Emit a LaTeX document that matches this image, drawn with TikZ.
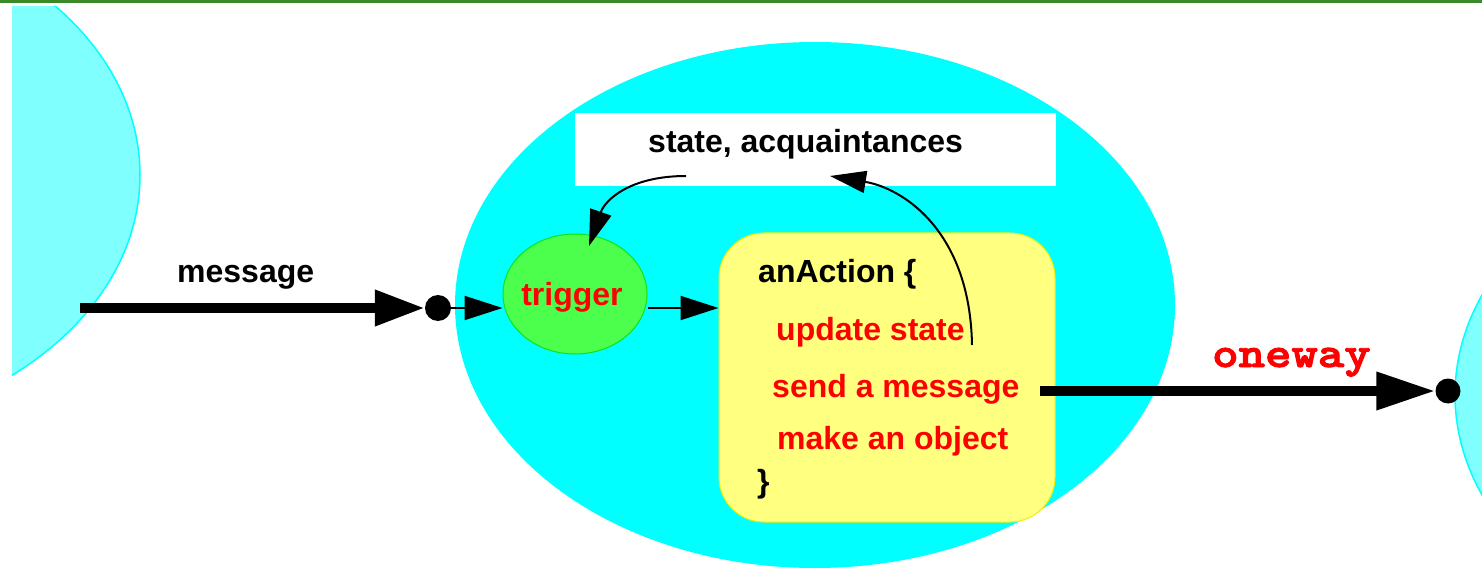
\documentclass[tikz,border=0pt]{standalone}
\usepackage{fontspec}
\setmainfont{Liberation Sans}
\newfontfamily\owfont{lmmonolt10-bold}[Extension=.otf, FakeBold=2.2]
\usetikzlibrary{arrows.meta,shapes.geometric}
\definecolor{topgreen}{RGB}{58,138,42}
\definecolor{objcyan}{RGB}{0,255,255}
\definecolor{lightcyan}{RGB}{128,255,255}
\definecolor{yellowfill}{RGB}{255,255,128}
\definecolor{yellowborder}{RGB}{240,240,0}
\definecolor{trigfill}{RGB}{76,255,76}
\definecolor{trigborder}{RGB}{20,225,20}
\definecolor{textred}{RGB}{255,0,0}
\begin{document}
\begin{tikzpicture}[x=1pt,y=-1pt,
  lbl/.style={anchor=base west, inner sep=0pt, font=\fontsize{32}{38}\selectfont\bfseries},
  redlbl/.style={lbl, text=textred},
  otherobj/.style={draw=objcyan, line width=1.5pt, fill=lightcyan},
  blackdot/.style={circle, fill=black, inner sep=0pt},
  thickarrow/.style={line width=10pt, -{Triangle[length=50pt,width=34pt]}},
  thickarrowb/.style={line width=10pt, -{Triangle[length=59pt,width=36pt]}},
  thinarrow/.style={line width=2pt, -{Triangle[length=38pt,width=24pt]}},
  curvearrow/.style={line width=2pt, -{Triangle[length=36pt,width=22pt]}}]
\useasboundingbox (0,0) rectangle (1482,569);
\fill[topgreen] (0,0) rectangle (1482,3);
\begin{scope}
  \clip (12,7) rectangle (1482,569);
  \draw[otherobj] (-213,175) ellipse [x radius=353pt, y radius=260pt];
  \draw[otherobj] (1808,395) ellipse [x radius=353pt, y radius=260pt];
\end{scope}
% main object
\node[ellipse, fill=objcyan, minimum width=720pt, minimum height=526pt, inner sep=0pt] (actor) at (815,305) {};
\node[fill=white, minimum width=481pt, minimum height=73pt, inner sep=0pt] (statebox) at (815.5,149.5) {};
\node[lbl] (statetext) at (648,153) {state, acquaintances};
\node[ellipse, draw=trigborder, fill=trigfill, line width=1pt, minimum width=144pt, minimum height=120pt, inner sep=0pt, text height=23pt, text depth=0pt, text=textred, font=\fontsize{32}{38}\selectfont\bfseries] (trigger) at (575,294) {\hspace*{-6pt}trigger};
\node[rectangle, rounded corners=45pt, draw=yellowborder, fill=yellowfill, line width=1pt, minimum width=336pt, minimum height=289pt, inner sep=0pt] (action) at (887,377.5) {};
\node[lbl] (t1) at (758,283) {anAction \{};
\node[redlbl] (t2) at (776,340) {update state};
\node[redlbl] (t3) at (772,397) {send a message};
\node[redlbl] (t4) at (777,449) {make an object};
\node[lbl] (t5) at (757,492) {\}};
% message
\node[lbl] (msg) at (177,282) {message};
\node[blackdot, minimum size=26pt] (dot1) at (438,308) {};
\coordinate (msgstart) at (80,308);
\draw[thickarrow] (msgstart) -- (dot1.west);
\draw[thinarrow] (dot1.east) -- (dot1.east -| trigger.west);
\draw[thinarrow] (trigger.east |- dot1.center) -- (action.west |- dot1.center);
% oneway
\node[anchor=base west, inner sep=0pt, text=textred, font=\fontsize{43}{50}\selectfont\owfont] (ow) at (1212,367) {\scalebox{1.17}[1]{oneway}};
\node[blackdot, minimum size=25pt] (dot2) at (1448,391) {};
\coordinate (owstart) at (1040,391);
\draw[thickarrowb] (owstart) -- (dot2.west);
% curved arrows
\coordinate (c1s) at (686,176);
\coordinate (c1e) at (589,246);
\draw[curvearrow] (c1s) .. controls (630,176) and (605,200) .. (c1e);
\coordinate (c2s) at (972,345);
\coordinate (c2e) at (830,176);
\draw[curvearrow] (c2s) .. controls (970,230) and (902,188) .. (c2e);
\end{tikzpicture}
\end{document}
